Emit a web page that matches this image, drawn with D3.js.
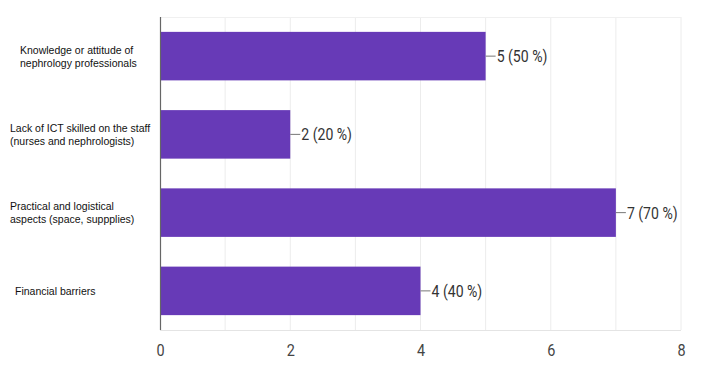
<!DOCTYPE html>
<html>
<head>
<meta charset="utf-8">
<script src="https://cdn.jsdelivr.net/npm/d3@7"></script>
<style>
  body { margin: 0; background: #fff; }
  svg { display: block; }
</style>
</head>
<body>
<svg id="chart" width="704" height="373"></svg>
<script>
// data
var categories = [
    ["Knowledge or attitude of", "nephrology professionals"],
    ["Lack of ICT skilled on the staff", "(nurses and nephrologists)"],
    ["Practical and logistical", "aspects (space, suppplies)"],
    ["Financial barriers"]
];
var labelX = [20, 10, 10, 15];
var counts = [5, 2, 7, 4];
var percents = [50, 20, 70, 40];
var xTicks = [0, 2, 4, 6, 8];

var margin = { top: 17, right: 23, bottom: 43, left: 160 },
    width = 704 - margin.left - margin.right,
    height = 373 - margin.top - margin.bottom;

var svg = d3.select("#chart");
var g = svg.append("g")
    .attr("transform", "translate(" + margin.left + "," + margin.top + ")");

var x = d3.scaleLinear().domain([0, 8]).range([0, width]);
var y = d3.scaleBand()
    .domain(d3.range(categories.length))
    .range([0, height])
    .paddingInner(0.38)
    .paddingOuter(0.19);

// light gridlines at every unit
g.append("g")
    .selectAll("line")
    .data(d3.range(1, 9))
    .enter().append("line")
    .attr("x1", function(d) { return x(d); })
    .attr("x2", function(d) { return x(d); })
    .attr("y1", 0)
    .attr("y2", height)
    .attr("stroke", "#ececec")
    .attr("stroke-width", 1);

g.append("line")
    .attr("x1", 0).attr("x2", width)
    .attr("y1", 0.5).attr("y2", 0.5)
    .attr("stroke", "#f0f0f0");
g.append("line")
    .attr("x1", 0).attr("x2", width)
    .attr("y1", height + 0.5).attr("y2", height + 0.5)
    .attr("stroke", "#e4e4e4");

// bars
g.selectAll("rect.bar")
    .data(counts)
    .enter().append("rect")
    .attr("class", "bar")
    .attr("x", 0)
    .attr("y", function(d, i) { return y(i); })
    .attr("width", function(d) { return x(d); })
    .attr("height", y.bandwidth())
    .attr("fill", "#673ab7");

// vertical axis line
g.append("line")
    .attr("x1", 0.5).attr("x2", 0.5)
    .attr("y1", 0).attr("y2", height)
    .attr("stroke", "#666")
    .attr("stroke-width", 1.2);

// value labels with leader line
var vals = g.append("g").selectAll("g")
    .data(counts)
    .enter().append("g")
    .attr("transform", function(d, i) {
        return "translate(" + x(d) + "," + (y(i) + y.bandwidth() / 2) + ")";
    });
vals.append("line")
    .attr("x1", 0).attr("x2", 10)
    .attr("y1", 0).attr("y2", 0)
    .attr("stroke", "#777");
vals.append("text")
    .attr("transform", "translate(11,6) scale(0.88,1)")
    .attr("font-family", "Roboto, sans-serif")
    .attr("font-size", 16)
    .attr("fill", "#333")
    .text(function(d, i) { return d + " (" + percents[i] + " %)"; });

// x axis tick labels
var xAxis = d3.axisBottom(x).tickValues(xTicks).tickSize(0).tickPadding(14);
var ax = g.append("g")
    .attr("transform", "translate(0," + height + ")")
    .call(xAxis);
ax.select(".domain").remove();
ax.selectAll("text")
    .attr("font-family", "Roboto, sans-serif")
    .attr("font-size", 17)
    .attr("fill", "#444")
    .attr("transform", "scale(0.85,1)");

// category labels
var cats = svg.append("g").selectAll("text")
    .data(categories)
    .enter().append("text")
    .attr("font-family", "Arial, 'Liberation Sans', sans-serif")
    .attr("font-size", 10.5)
    .attr("fill", "#111")
    .attr("transform", function(d, i) {
        var cy = margin.top + y(i) + y.bandwidth() / 2;
        return "translate(" + labelX[i] + "," + (cy + 4 - (d.length - 1) * 6.5) + ")";
    });
cats.selectAll("tspan")
    .data(function(d) { return d; })
    .enter().append("tspan")
    .attr("x", 0)
    .attr("dy", function(d, j) { return j === 0 ? 0 : 13; })
    .text(function(d) { return d; });
</script>
</body>
</html>
